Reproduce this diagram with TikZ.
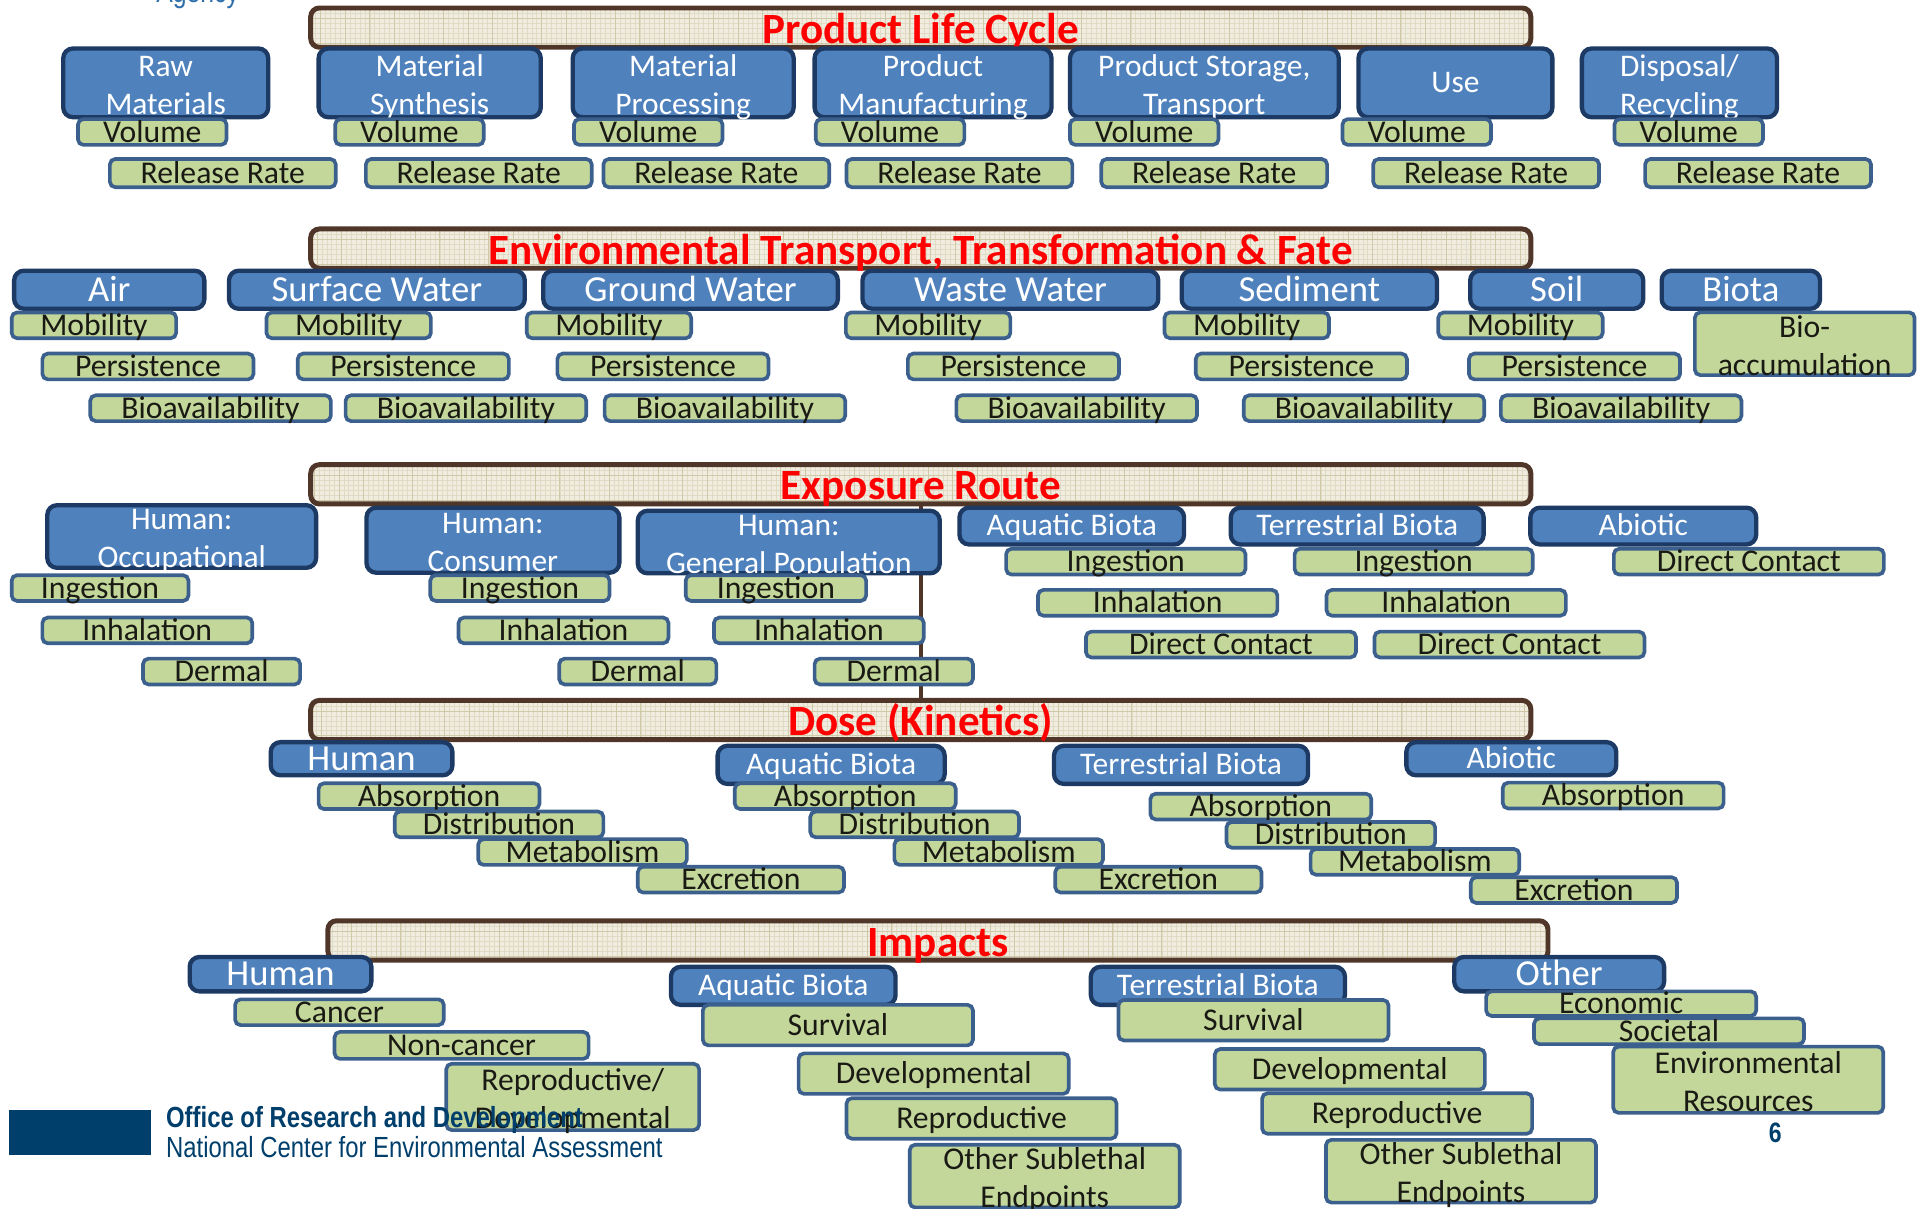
\documentclass[tikz,border=0pt]{standalone}
\usepackage{fontspec}
\setmainfont{Carlito}
\newfontfamily\footfont[FakeStretch=0.82]{Liberation Sans}
\usepackage{tikz}
\definecolor{boxblue}{RGB}{79,129,189}
\definecolor{boxnavy}{RGB}{28,58,100}
\definecolor{gfill}{RGB}{196,215,155}
\definecolor{gborder}{RGB}{60,96,142}
\definecolor{gtext}{RGB}{26,26,20}
\definecolor{barbrown}{RGB}{80,54,40}
\definecolor{barbeige}{RGB}{240,237,224}
\definecolor{gridfine}{RGB}{224,219,196}
\definecolor{gridbold}{RGB}{208,201,168}
\definecolor{titlered}{RGB}{255,0,0}
\definecolor{footblue}{RGB}{0,62,107}
\definecolor{agencyblue}{RGB}{46,110,170}

\begin{document}
\begin{tikzpicture}[x=0.02cm, y=-0.02cm,
    bar/.style={draw=barbrown, line width=2.3pt, rounded corners=4pt, fill=barbeige,
      minimum width=19.88cm, minimum height=0.64cm, inner sep=0pt, text=titlered,
      font=\fontsize{20}{23}\selectfont\bfseries, text height=14.5pt, text depth=0pt,
      path picture={
        \draw[gridfine, line width=0.3pt, step=0.08cm] (path picture bounding box.south west) grid (path picture bounding box.north east);
        \draw[gridbold, line width=0.4pt, step=0.4cm] (path picture bounding box.south west) grid (path picture bounding box.north east);}},
    catbase/.style={draw=boxnavy, line width=2pt, rounded corners=4.5pt, fill=boxblue, text=white,
      inner sep=0pt, align=center, font=\fontsize{14.6}{17.6}\selectfont},
    cattwo/.style={catbase, text height=29pt, text depth=0pt},
    cat/.style={catbase, text height=9.2pt, text depth=0pt, minimum height=0.6cm},
    catbig/.style={cat, font=\fontsize{17}{20}\selectfont, text height=10.7pt},
    itembase/.style={draw=gborder, line width=1.7pt, rounded corners=2.5pt, fill=gfill, text=gtext,
      inner sep=0pt, align=center, font=\fontsize{14.7}{17.6}\selectfont},
    itemtwo/.style={itembase, text height=29.1pt, text depth=0pt},
    item/.style={itembase, text height=9.3pt, text depth=0pt, minimum height=0.42cm},
    link/.style={draw=barbrown, line width=1.7pt}]
  \useasboundingbox (0,0) rectangle (1568,984);

  % stage bars
  \node[bar] (plc) at (750,22.5) {Product Life Cycle};
  \node[bar] (etf) at (750,202.5) {Environmental Transport, Transformation \& Fate};
  \node[bar] (expo) at (750,394.5) {Exposure Route};
  \node[bar] (dose) at (750,586.5) {Dose (Kinetics)};
  \node[bar] (imp) at (764,766) {Impacts};
  \draw[link] (expo.south) -- (dose.north);

  % product life cycle
  \node[cattwo, minimum width=3.34cm, minimum height=1.12cm] (raw) at (135,67.5) {Raw\\Materials};
  \node[cattwo, minimum width=3.62cm, minimum height=1.12cm] (synth) at (350,67.5) {Material\\Synthesis};
  \node[cattwo, minimum width=3.6cm, minimum height=1.12cm] (proc) at (556.5,67.5) {Material\\Processing};
  \node[cattwo, minimum width=3.86cm, minimum height=1.12cm] (manuf) at (760,67.5) {Product\\Manufacturing};
  \node[cattwo, minimum width=4.38cm, minimum height=1.12cm] (store) at (981,67.5) {Product Storage,\\Transport};
  \node[cat, minimum width=3.16cm, minimum height=1.12cm] (use) at (1185.5,67.5) {Use};
  \node[cattwo, minimum width=3.18cm, minimum height=1.12cm] (disp) at (1368,67.5) {Disposal/\\Recycling};
  \node[item, minimum width=2.42cm] (vol1) at (124,107.5) {Volume};
  \node[item, minimum width=2.42cm] (vol2) at (333.5,107.5) {Volume};
  \node[item, minimum width=2.42cm] (vol3) at (528,107.5) {Volume};
  \node[item, minimum width=2.42cm] (vol4) at (725,107.5) {Volume};
  \node[item, minimum width=2.42cm] (vol5) at (932,107.5) {Volume};
  \node[item, minimum width=2.42cm] (vol6) at (1154,107.5) {Volume};
  \node[item, minimum width=2.42cm] (vol7) at (1375.5,107.5) {Volume};
  \node[item, minimum width=3.68cm, minimum height=0.46cm] (rel1) at (181.5,141) {Release Rate};
  \node[item, minimum width=3.68cm, minimum height=0.46cm] (rel2) at (390,141) {Release Rate};
  \node[item, minimum width=3.68cm, minimum height=0.46cm] (rel3) at (583.5,141) {Release Rate};
  \node[item, minimum width=3.68cm, minimum height=0.46cm] (rel4) at (781.5,141) {Release Rate};
  \node[item, minimum width=3.68cm, minimum height=0.46cm] (rel5) at (989,141) {Release Rate};
  \node[item, minimum width=3.68cm, minimum height=0.46cm] (rel6) at (1210.5,141) {Release Rate};
  \node[item, minimum width=3.68cm, minimum height=0.46cm] (rel7) at (1432,141) {Release Rate};

  % environmental transport, transformation & fate
  \node[catbig, minimum width=3.1cm, minimum height=0.62cm] (air) at (89,236) {Air};
  \node[catbig, minimum width=4.82cm, minimum height=0.62cm] (surf) at (307,236) {Surface Water};
  \node[catbig, minimum width=4.8cm, minimum height=0.62cm] (ground) at (562.5,236) {Ground Water};
  \node[catbig, minimum width=4.82cm, minimum height=0.62cm] (waste) at (823,236) {Waste Water};
  \node[catbig, minimum width=4.16cm, minimum height=0.62cm] (sed) at (1066.5,236) {Sediment};
  \node[catbig, minimum width=2.82cm, minimum height=0.62cm] (soil) at (1268,236) {Soil};
  \node[catbig, minimum width=2.58cm, minimum height=0.62cm] (biota) at (1418,236) {Biota};
  \node[item, minimum width=2.68cm] (mob1) at (76.5,265) {Mobility};
  \node[item, minimum width=2.68cm] (mob2) at (284,265) {Mobility};
  \node[item, minimum width=2.68cm] (mob3) at (496,265) {Mobility};
  \node[item, minimum width=2.68cm] (mob4) at (756,265) {Mobility};
  \node[item, minimum width=2.68cm] (mob5) at (1015.5,265) {Mobility};
  \node[item, minimum width=2.68cm] (mob6) at (1238.5,265) {Mobility};
  \node[itemtwo, minimum width=3.58cm, minimum height=1.02cm] (bioacc) at (1470,280) {Bio-\\accumulation};
  \node[item, minimum width=3.44cm] (per1) at (120.5,298.5) {Persistence};
  \node[item, minimum width=3.44cm] (per2) at (328.5,298.5) {Persistence};
  \node[item, minimum width=3.44cm] (per3) at (540,298.5) {Persistence};
  \node[item, minimum width=3.44cm] (per4) at (825.5,298.5) {Persistence};
  \node[item, minimum width=3.44cm] (per5) at (1060,298.5) {Persistence};
  \node[item, minimum width=3.44cm] (per6) at (1282.5,298.5) {Persistence};
  \node[item, minimum width=3.92cm] (bav1) at (171.5,332.5) {Bioavailability};
  \node[item, minimum width=3.92cm] (bav2) at (379.5,332.5) {Bioavailability};
  \node[item, minimum width=3.92cm] (bav3) at (590.5,332.5) {Bioavailability};
  \node[item, minimum width=3.92cm] (bav4) at (877,332.5) {Bioavailability};
  \node[item, minimum width=3.92cm] (bav5) at (1111,332.5) {Bioavailability};
  \node[item, minimum width=3.92cm] (bav6) at (1320.5,332.5) {Bioavailability};

  % exposure route
  \node[cattwo, minimum width=4.38cm, minimum height=1.02cm] (occ) at (148,437) {Human:\\Occupational};
  \node[cattwo, minimum width=4.12cm, minimum height=1.06cm] (cons) at (401.5,440) {Human:\\Consumer};
  \node[cattwo, minimum width=4.92cm, minimum height=1.0cm] (genpop) at (642.5,441.5) {Human:\\General Population};
  \node[cat, minimum width=3.66cm] (eaqua) at (873,428.5) {Aquatic Biota};
  \node[cat, minimum width=4.12cm] (eterr) at (1105.5,428.5) {Terrestrial Biota};
  \node[cat, minimum width=3.68cm] (eabio) at (1338.5,428.5) {Abiotic};
  \node[item, minimum width=2.88cm] (ing1) at (81.5,479) {Ingestion};
  \node[item, minimum width=3.42cm] (inh1) at (120,513.5) {Inhalation};
  \node[item, minimum width=2.56cm] (der1) at (180.5,547) {Dermal};
  \node[item, minimum width=2.92cm] (ing2) at (423.5,479) {Ingestion};
  \node[item, minimum width=3.42cm] (inh2) at (459,513.5) {Inhalation};
  \node[item, minimum width=2.56cm] (der2) at (519.5,547) {Dermal};
  \node[item, minimum width=2.94cm] (ing3) at (632,479) {Ingestion};
  \node[item, minimum width=3.42cm] (inh3) at (667,513.5) {Inhalation};
  \node[item, minimum width=2.58cm] (der3) at (728,547) {Dermal};
  \node[item, minimum width=3.9cm] (ing4) at (917,457.5) {Ingestion};
  \node[item, minimum width=3.9cm] (inh4) at (943,491) {Inhalation};
  \node[item, minimum width=4.4cm] (dct4) at (994.5,525) {Direct Contact};
  \node[item, minimum width=3.88cm] (ing5) at (1151.5,457.5) {Ingestion};
  \node[item, minimum width=3.9cm] (inh5) at (1178,491) {Inhalation};
  \node[item, minimum width=4.4cm] (dct5) at (1229.5,525) {Direct Contact};
  \node[item, minimum width=4.4cm] (dct6) at (1424.5,457.5) {Direct Contact};

  % dose (kinetics)
  \node[catbig, minimum width=2.96cm, minimum height=0.54cm] (dhum) at (294.5,618) {Human};
  \node[cat, minimum width=3.7cm, minimum height=0.62cm] (daqua) at (677,623) {Aquatic Biota};
  \node[cat, minimum width=4.14cm, minimum height=0.62cm] (dterr) at (962,623) {Terrestrial Biota};
  \node[cat, minimum width=3.42cm, minimum height=0.54cm] (dabio) at (1231,618) {Abiotic};
  \node[item, minimum width=3.6cm] (abs1) at (349.5,648.5) {Absorption};
  \node[item, minimum width=3.4cm] (dis1) at (406.5,671.5) {Distribution};
  \node[item, minimum width=3.4cm] (met1) at (474.5,694) {Metabolism};
  \node[item, minimum width=3.36cm] (exc1) at (603.5,716.5) {Excretion};
  \node[item, minimum width=3.6cm] (abs2) at (688.5,648.5) {Absorption};
  \node[item, minimum width=3.4cm] (dis2) at (745,671.5) {Distribution};
  \node[item, minimum width=3.4cm] (met2) at (813.5,694) {Metabolism};
  \node[item, minimum width=3.36cm] (exc2) at (943.5,716.5) {Excretion};
  \node[item, minimum width=3.6cm] (abs3) at (1027,657) {Absorption};
  \node[item, minimum width=3.4cm] (dis3) at (1084,680) {Distribution};
  \node[item, minimum width=3.4cm] (met3) at (1152.5,702) {Metabolism};
  \node[item, minimum width=3.36cm] (exc3) at (1282,725) {Excretion};
  \node[item, minimum width=3.6cm] (abs4) at (1314,648) {Absorption};

  % impacts
  \node[catbig, minimum width=2.96cm, minimum height=0.56cm] (ihum) at (228.5,793.5) {Human};
  \node[cat, minimum width=3.66cm, minimum height=0.62cm] (iaqua) at (638,803) {Aquatic Biota};
  \node[cat, minimum width=4.14cm, minimum height=0.62cm] (iterr) at (992,803) {Terrestrial Biota};
  \node[catbig, minimum width=3.42cm, minimum height=0.56cm] (iother) at (1270,793.5) {Other};
  \node[item, minimum width=3.4cm] (cancer) at (276.5,824.5) {Cancer};
  \node[item, minimum width=4.14cm, minimum height=0.44cm] (noncan) at (376,851.5) {Non-cancer};
  \node[itemtwo, minimum width=4.12cm, minimum height=1.08cm] (repdev) at (466.5,893.5) {Reproductive/\\Developmental};
  \node[item, minimum width=4.4cm, minimum height=0.66cm] (surv1) at (682.5,835) {Survival};
  \node[item, minimum width=4.4cm, minimum height=0.66cm] (dev1) at (760.5,874.5) {Developmental};
  \node[item, minimum width=4.4cm, minimum height=0.66cm] (rep1) at (799.5,911) {Reproductive};
  \node[itemtwo, minimum width=4.4cm, minimum height=1.0cm] (subl1) at (851,958) {Other Sublethal\\Endpoints};
  \node[item, minimum width=4.4cm, minimum height=0.66cm] (surv2) at (1021,831) {Survival};
  \node[item, minimum width=4.4cm, minimum height=0.66cm] (dev2) at (1099.5,871) {Developmental};
  \node[item, minimum width=4.4cm, minimum height=0.66cm] (rep2) at (1138,907) {Reproductive};
  \node[itemtwo, minimum width=4.4cm, minimum height=1.0cm] (subl2) at (1190,954) {Other Sublethal\\Endpoints};
  \node[item, minimum width=4.4cm, minimum height=0.4cm] (econ) at (1320.5,817.5) {Economic};
  \node[item, minimum width=4.4cm, minimum height=0.42cm] (soc) at (1359.5,840) {Societal};
  \node[itemtwo, minimum width=4.4cm, minimum height=1.08cm] (envres) at (1424,879.5) {Environmental\\Resources};

  % footer
  \node[anchor=base, inner sep=0pt, text=agencyblue, font=\footfont\fontsize{14}{16}\selectfont] (agency) at (161,2) {Agency};
  \node[fill=footblue, minimum width=2.32cm, minimum height=0.74cm, inner sep=0pt] (logo) at (65,922.5) {};
  \node[anchor=west, inner sep=0pt, text=footblue, font=\footfont\bfseries\fontsize{13.5}{16}\selectfont] (ord) at (135,912) {Office of Research and Development};
  \node[anchor=west, inner sep=0pt, text=footblue, font=\footfont\fontsize{13.5}{16}\selectfont] (ncea) at (135,934) {National Center for Environmental Assessment};
  \node[inner sep=0pt, text=footblue, font=\footfont\bfseries\fontsize{13}{16}\selectfont] (page) at (1446,923) {6};
\end{tikzpicture}
\end{document}
